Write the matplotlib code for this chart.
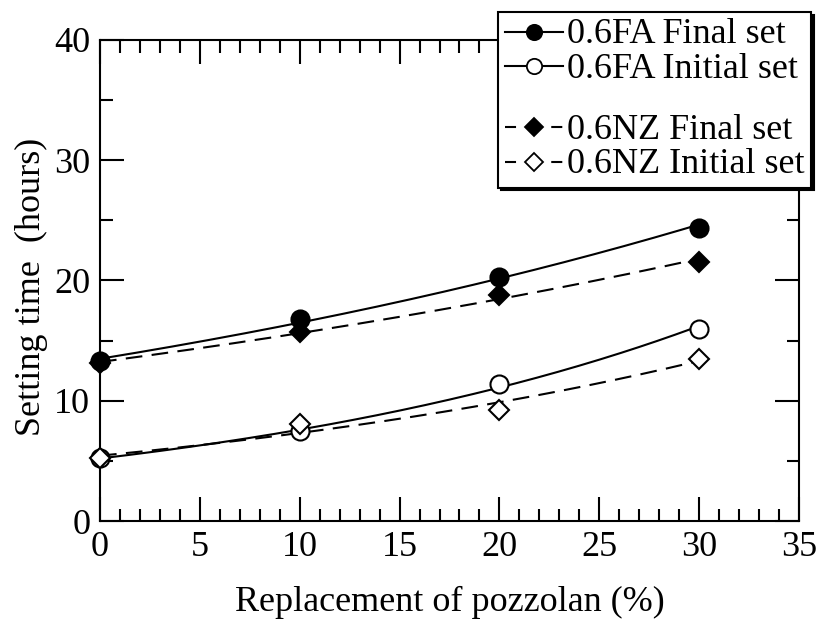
import numpy as np
import matplotlib
matplotlib.use("Agg")
import matplotlib.pyplot as plt
from matplotlib.lines import Line2D
from matplotlib.ticker import MultipleLocator

plt.rcParams['font.family'] = ['Liberation Serif', 'DejaVu Serif']

# data
replacement = [0, 10, 20, 30]
fa_final = [13.3, 16.8, 20.3, 24.4]
fa_initial = [5.2, 7.5, 11.4, 16.0]
nz_final = [13.1, 15.7, 18.8, 21.5]
nz_initial = [5.2, 8.1, 9.2, 13.5]

fig = plt.figure(figsize=(8.21, 6.19), dpi=100)
ax = fig.add_axes([0.1218, 0.1583, 0.8514, 0.7771])

xs = np.linspace(0, 30, 200)


def trend(x, y):
    # exponential trend line through the measured points
    b, a = np.polyfit(x, np.log(y), 1)
    return np.exp(a + b * xs)


dash_plot = (0, (8, 4.5))
dash_leg = (0, (5.3, 5.8))

series = [
    (fa_final, '-', 'o', 'black', '0.6FA Final set'),
    (fa_initial, '-', 'o', 'white', '0.6FA Initial set'),
    (nz_final, dash_plot, 'D', 'black', '0.6NZ Final set'),
    (nz_initial, dash_plot, 'D', 'white', '0.6NZ Initial set'),
]

handles = []
labels = []
for y, ls, mk, fc, lab in series:
    ax.plot(xs, trend(replacement, y), color='black', ls=ls, lw=1.5, zorder=2)
    ms = 13 if mk == 'o' else 10.5
    ax.plot(replacement, y, ls='none', marker=mk, ms=ms, mfc=fc, mec='black',
            mew=1.5, zorder=3, clip_on=False)
    h = Line2D([], [], color='black', ls='-' if ls == '-' else dash_leg, lw=1.5,
               marker=mk, ms=11 if mk == 'o' else 9.5, mfc=fc, mec='black', mew=1.3)
    handles.append(h)
    labels.append(lab)

# blank row between the two groups in the legend
handles.insert(2, Line2D([], [], ls='none'))
labels.insert(2, ' ')

ax.set_xlim(0, 35)
ax.set_ylim(0, 40)
ax.xaxis.set_major_locator(MultipleLocator(5))
ax.xaxis.set_minor_locator(MultipleLocator(1))
ax.yaxis.set_major_locator(MultipleLocator(10))
ax.yaxis.set_minor_locator(MultipleLocator(5))
ax.tick_params(which='both', direction='in', top=True, right=True, width=1.5)
ax.tick_params(which='major', length=17, labelsize=26, pad=7)
ax.tick_params(which='minor', length=9)
for sp in ax.spines.values():
    sp.set_linewidth(1.5)

ax.set_xlabel('Replacement of pozzolan (%)', fontsize=26, labelpad=16)
ax.set_ylabel('Setting time  (hours)', fontsize=26)
ax.yaxis.set_label_coords(-0.074, 0.4865)

leg = fig.legend(handles, labels, loc='upper right', bbox_to_anchor=(0.988, 0.981),
                 fontsize=26, frameon=True, fancybox=False,
                 shadow={'color': 'black', 'alpha': 1},
                 handlelength=1.6, handleheight=0.5, handletextpad=0.12,
                 labelspacing=0.04, borderpad=0.18, borderaxespad=0.0)
leg.get_frame().set_edgecolor('black')
leg.get_frame().set_linewidth(1.5)
leg.get_frame().set_alpha(1)
leg.get_texts()[2].set_fontsize(6)

fig.savefig('out.png', dpi=100)
